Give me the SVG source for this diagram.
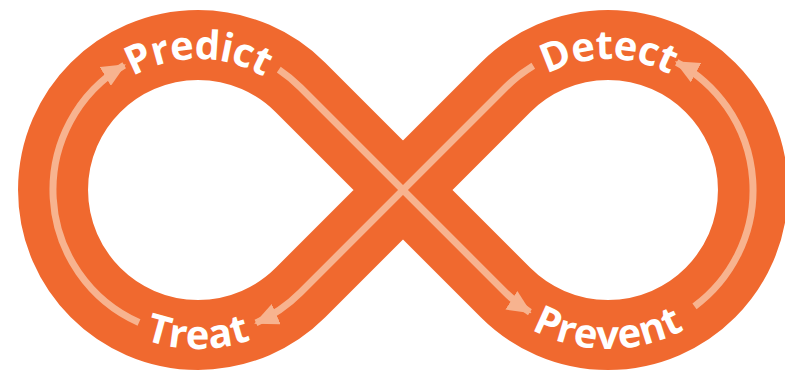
<svg xmlns="http://www.w3.org/2000/svg" xmlns:xlink="http://www.w3.org/1999/xlink" width="785" height="371" viewBox="0 0 785 371">
  <style>
    .band { fill: none; stroke: #F0692F; stroke-width: 70; stroke-linejoin: round; }
    .flow { fill: none; stroke: #F7B38F; stroke-width: 7; stroke-linecap: butt; }
    .label { font-family: "Open Sans", "Liberation Sans", sans-serif; font-weight: 700; font-size: 40px; letter-spacing: 0.5px; fill: #FFFFFF; }
    .top { letter-spacing: -0.8px; }
  </style>
  <defs>
    <marker id="head" markerUnits="userSpaceOnUse" markerWidth="24" markerHeight="22" viewBox="0 0 24 22" refX="22" refY="11" orient="auto">
      <path d="M0,0 L24,11 L0,22 Z" fill="#F7B38F"/>
    </marker>
    <path id="arcPredict" d="M 67 190 A 131 131 0 0 1 329 190"/>
    <path id="arcDetect" d="M 477 190 A 131 131 0 0 1 739 190"/>
    <path id="arcTreat" d="M 39 190 A 159 159 0 0 0 357 190"/>
    <path id="arcPrevent" d="M 449 190 A 159 159 0 0 0 767 190"/>
  </defs>
  <rect width="785" height="371" fill="#FFFFFF"/>
  <g id="band">
    <path class="band" d="M 403 190 L 505.5 87.5 A 144.96 144.96 0 1 1 505.5 292.5 L 300.5 87.5 A 144.96 144.96 0 1 0 300.5 292.5 Z"/>
  </g>
  <g id="connectors">
    <path class="flow" marker-end="url(#head)" d="M 139 322.5 A 145 145 0 0 1 124.2 65.2"/>
    <path class="flow" marker-end="url(#head)" d="M 278.8 69.6 A 145 145 0 0 1 300.5 87.5 L 505.5 292.5 A 145 145 0 0 0 529.9 312.2"/>
    <path class="flow" marker-end="url(#head)" d="M 694.5 306.4 A 145 145 0 0 0 676.7 62.3"/>
    <path class="flow" marker-end="url(#head)" d="M 533.3 65.7 A 145 145 0 0 0 505.5 87.5 L 300.5 292.5 A 145 145 0 0 1 256 322.9"/>
  </g>
  <g id="predict">
    <text class="label top"><textPath xlink:href="#arcPredict" href="#arcPredict" startOffset="50%" text-anchor="middle">Predict</textPath></text>
  </g>
  <g id="detect">
    <text class="label top"><textPath xlink:href="#arcDetect" href="#arcDetect" startOffset="50%" text-anchor="middle">Detect</textPath></text>
  </g>
  <g id="prevent">
    <text class="label"><textPath xlink:href="#arcPrevent" href="#arcPrevent" startOffset="50%" text-anchor="middle">Prevent</textPath></text>
  </g>
  <g id="treat">
    <text class="label"><textPath xlink:href="#arcTreat" href="#arcTreat" startOffset="50%" text-anchor="middle">Treat</textPath></text>
  </g>
</svg>
